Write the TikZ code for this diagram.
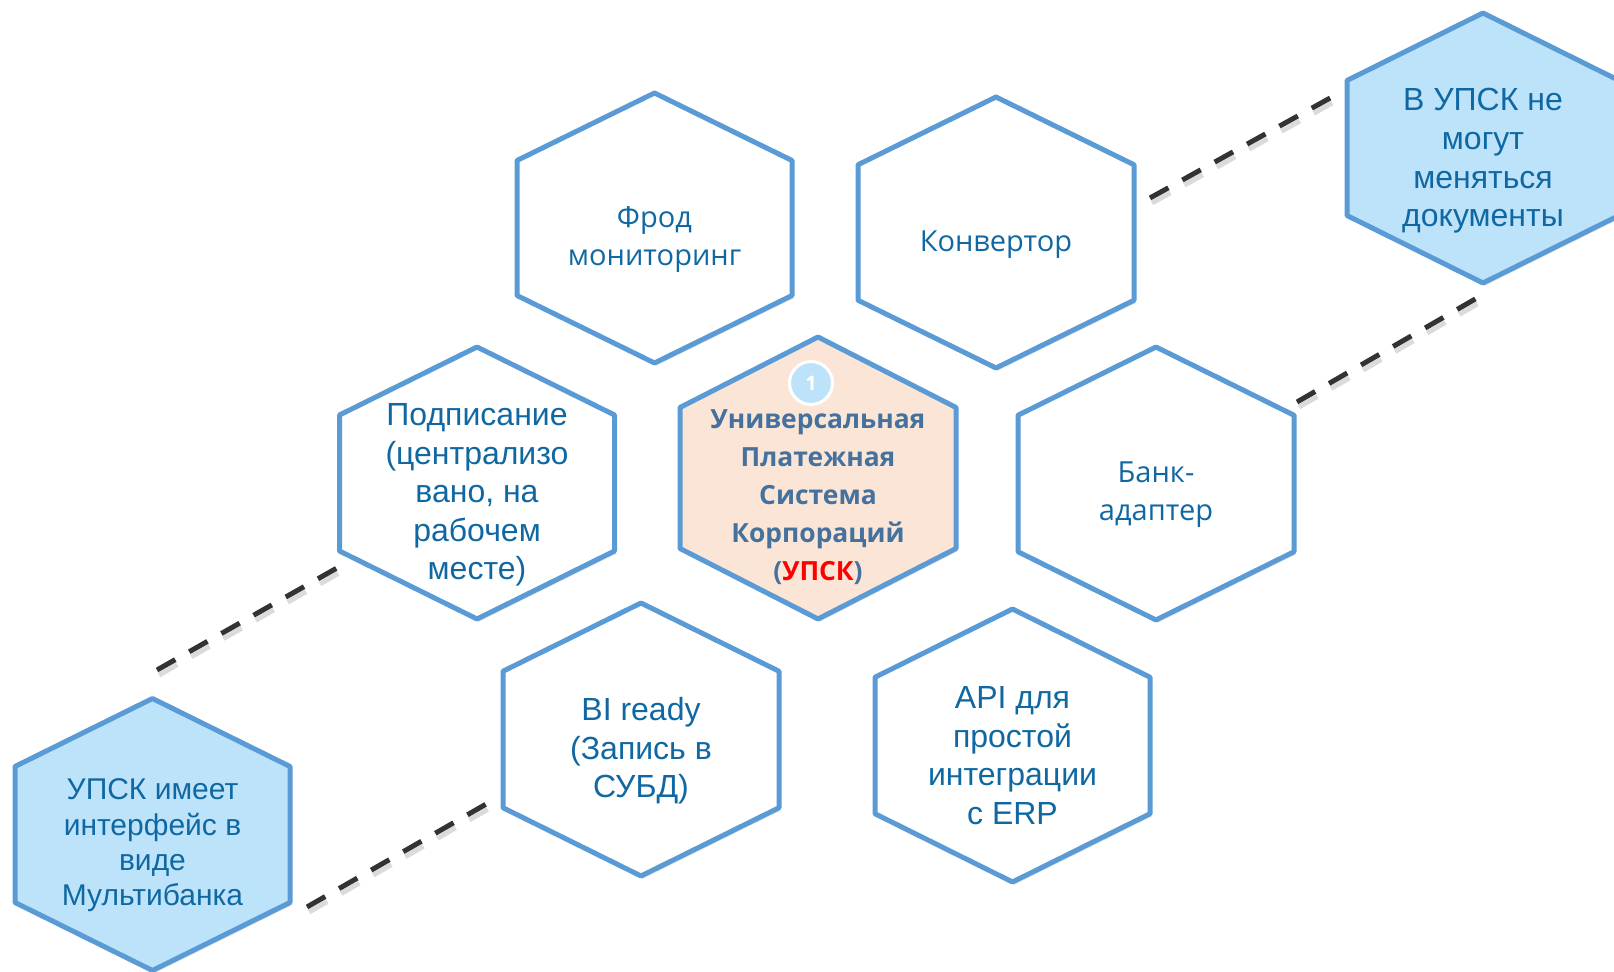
\documentclass[tikz,border=0pt]{standalone}
\usepackage{fontspec}
\setmainfont{Liberation Sans}
\newfontfamily\segoe{Open Sans}
\usetikzlibrary{calc,shadows}
\definecolor{hexblue}{HTML}{5B9BD5}
\definecolor{notefill}{HTML}{BDE3FB}
\definecolor{corefill}{HTML}{FBE5D6}
\definecolor{txtblue}{HTML}{1068A3}
\definecolor{coretxt}{HTML}{44719E}
\definecolor{dashgray}{HTML}{333333}
\definecolor{upskred}{HTML}{FF0000}
\tikzset{
  hexline/.style={draw=hexblue, line width=2.5pt, line join=round,
    drop shadow={opacity=0.22, shadow xshift=0.8pt, shadow yshift=-1.4pt}},
  arialtxt/.style={align=center, text=txtblue, inner sep=0pt,
    font=\fontsize{16}{19.3}\selectfont},
  notetxt/.style={align=center, text=txtblue, inner sep=0pt,
    font=\fontsize{15}{17.7}\selectfont},
  segtxt/.style={align=center, text=txtblue, inner sep=0pt,
    font=\segoe\fontsize{14.5}{19}\selectfont},
  coretext/.style={align=center, text=coretxt, inner sep=0pt,
    font=\segoe\bfseries\fontsize{13.2}{19}\selectfont},
  numbadge/.style={circle, fill=notefill, draw=white, line width=1.5pt,
    minimum size=21.5pt, inner sep=0pt, text=white,
    font=\segoe\bfseries\fontsize{10}{12}\selectfont},
  dashline/.style={draw=dashgray, line width=2.5pt, dash pattern=on 10.5pt off 8pt},
  dashshade/.style={draw=black!40, opacity=0.35, line width=2.5pt, dash pattern=on 10.5pt off 8pt},
}
% #1 cx, #2 cy, #3 R (half height), #4 W (half width), #5 fill
\newcommand\hexshape[5]{%
  \path[hexline, fill=#5] (#1,#2-#3) -- (#1+#4,#2-#3/2) -- (#1+#4,#2+#3/2)
    -- (#1,#2+#3) -- (#1-#4,#2+#3/2) -- (#1-#4,#2-#3/2) -- cycle;}
\begin{document}
\begin{tikzpicture}[x=0.5pt,y=-0.5pt]
\useasboundingbox (0,0) rectangle (1614,972);
\fill[white] (0,0) rectangle (1614,972);

% hexagons
\hexshape{654.5}{228}{135}{137.5}{white}
\hexshape{996}{232.5}{135.5}{138}{white}
\hexshape{818}{478}{141}{138}{corefill}
\hexshape{477}{483}{136}{137.5}{white}
\hexshape{1156}{483.5}{136.5}{138}{white}
\hexshape{641}{739.5}{136.5}{138}{white}
\hexshape{1012.5}{745.5}{136.5}{137.5}{white}
\hexshape{1483}{148}{135}{136}{notefill}
\hexshape{152.5}{834.5}{136}{137.5}{notefill}

% texts
\node[segtxt] (fraud) at (654.5,239.8) {Фрод\\мониторинг};
\node[segtxt] (konv) at (996,245) {Конвертор};
\node[coretext] (core) at (818,497) {Универсальная\\Платежная\\Система\\Корпораций\\(\textcolor{upskred}{УПСК})};
\node[numbadge] (badge) at (811,383) {1};
\node[arialtxt] (sign) at (477,495) {Подписание\\(централизо\\вано, на\\рабочем\\месте)};
\node[segtxt] (bank) at (1156,494.5) {Банк-\\адаптер};
\node[arialtxt] (bi) at (641,751) {BI ready\\(Запись в\\СУБД)};
\node[arialtxt] (api) at (1012.5,755.5) {API для\\простой\\интеграции\\с ERP};
\node[arialtxt] (note1) at (1483,161) {В УПСК не\\могут\\меняться\\документы};
\node[notetxt] (note2) at (152.5,845.5) {УПСК имеет\\интерфейс в\\виде\\Мультибанка};

% dashed connector ends
\coordinate (d1s) at (1150,198);  \coordinate (d1e) at (1332,97);
\coordinate (d2s) at (1297,402);  \coordinate (d2e) at (1477,298);
\coordinate (d3s) at (157,670);   \coordinate (d3e) at (337,568);
\coordinate (d4s) at (307,907);   \coordinate (d4e) at (488,803);

\foreach \a/\b in {d1s/d1e,d2s/d2e,d3s/d3e,d4s/d4e}{
  \draw[dashshade] ([shift={(2,5)}]\a) -- ([shift={(2,5)}]\b);
  \draw[dashline] (\a) -- (\b);
}
\end{tikzpicture}
\end{document}
